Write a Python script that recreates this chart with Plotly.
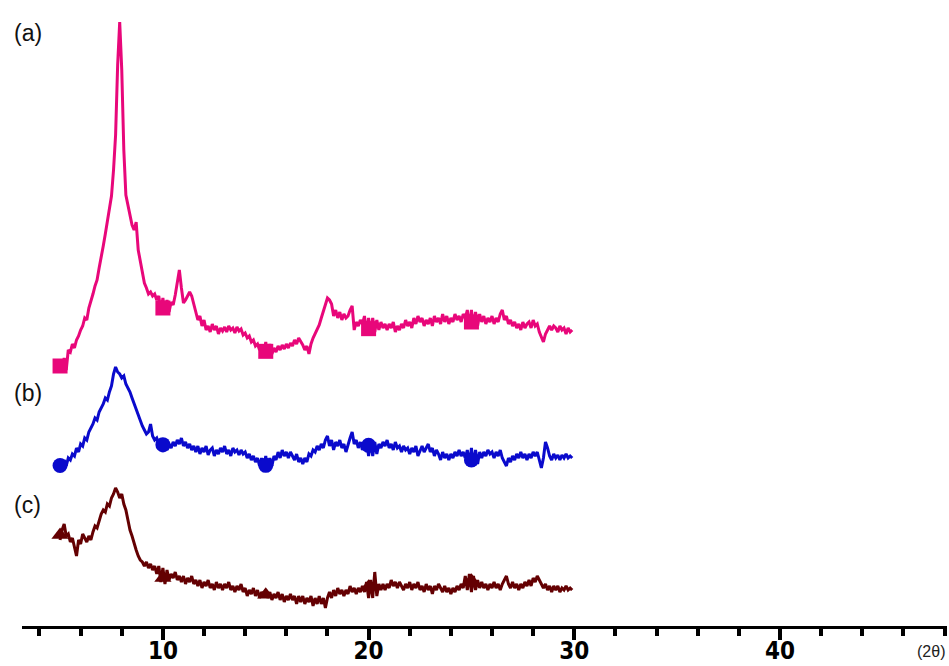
import numpy as np
import plotly.graph_objects as go

# 2-theta sampling grid (degrees)
two_theta = np.round(np.arange(5.0, 30.0, 0.1), 1)

# Intensities (a.u., stacked as displayed)
series_a = [
266,254,268,256,276,274,282,278,286,290,296,300,308,306,318,324,332,340,346,358,
368,380,392,404,416,430,456,491,561,604,556,476,431,421,414,401,396,404,376,364,
351,343,338,332,334,330,332,326,330,314,328,312,326,314,324,321,331,344,356,338,
323,326,330,334,330,322,314,306,310,300,306,296,300,294,302,296,300,292,298,295,
299,294,300,296,298,293,299,295,297,291,293,288,290,284,286,280,282,276,280,270,
284,270,282,272,278,274,280,276,281,277,282,278,283,280,286,282,288,285,281,276,
280,272,282,288,292,296,301,308,314,322,328,326,322,310,316,308,314,306,312,308,
310,316,320,296,304,300,306,302,310,292,308,292,308,294,306,296,304,298,302,296,
302,298,304,294,300,296,302,298,306,300,304,298,308,302,310,304,308,300,306,302,
308,300,310,304,308,302,312,304,310,302,308,304,312,306,310,304,312,308,316,298,
316,298,314,300,312,304,310,302,308,304,310,302,308,304,312,316,306,310,302,306,
300,304,298,302,296,304,298,302,304,298,306,300,302,294,288,284,292,296,300,296,
300,298,294,300,296,298,292,298,294,296]
series_b = [
163,158,166,160,168,166,172,170,178,174,182,180,188,186,194,198,202,208,206,214,
218,222,228,226,234,240,252,259,254,252,248,250,242,238,234,228,222,216,210,206,
200,196,192,194,202,190,186,188,182,186,174,184,176,182,178,184,180,186,182,188,
180,184,178,182,176,180,174,180,172,178,174,180,171,176,178,170,176,172,178,174,
180,172,176,170,178,174,176,171,176,172,174,168,172,166,170,164,168,160,168,156,
170,156,168,160,170,166,174,168,176,170,174,168,174,170,166,172,164,168,162,168,
164,172,170,176,174,180,176,182,178,186,190,180,186,176,184,180,186,178,182,174,
182,188,194,182,186,178,184,176,182,186,170,186,170,184,172,182,178,184,180,186,
178,182,176,184,178,180,174,180,176,178,172,178,174,180,170,176,180,174,178,182,
174,178,170,176,172,166,174,168,172,166,172,168,174,170,176,170,174,168,176,160,
178,160,176,162,174,168,174,170,176,172,174,168,174,170,176,168,164,160,168,164,
170,166,172,168,174,168,172,166,172,168,174,170,174,166,158,168,184,178,170,166,
172,168,171,166,171,168,172,168,170,168]
series_c = [
86,96,102,90,92,84,88,80,70,86,82,92,88,84,90,86,94,100,98,106,
112,116,114,122,120,128,132,138,134,128,132,122,116,106,96,90,82,76,70,66,
64,60,64,58,62,56,60,52,60,44,58,42,56,46,52,48,54,46,50,44,
50,42,48,44,50,42,46,40,46,38,44,40,46,38,42,36,44,38,42,36,
42,38,44,36,40,34,40,36,42,34,38,30,36,32,38,30,36,28,34,30,
36,28,34,26,32,28,34,26,32,24,30,26,32,26,30,22,30,24,30,22,
28,24,30,20,28,22,30,22,28,18,28,34,28,36,30,38,32,36,30,36,
32,40,34,38,32,38,34,40,34,44,28,46,28,54,30,42,36,42,36,42,
38,46,40,44,38,44,40,36,42,38,44,36,42,38,44,36,40,34,42,36,
40,32,40,36,42,38,34,40,34,38,32,38,34,40,36,42,38,50,36,52,
34,50,36,46,38,44,38,42,36,42,38,44,38,42,36,42,46,50,42,38,
44,38,42,36,42,38,44,40,46,40,48,44,50,46,42,38,42,36,40,34,
40,36,40,34,38,36,40,36,38,36]

labels = ["(a)", "(b)", "(c)"]
label_pos = [593, 233, 121]
colors = ["#E8077A", "#0A0ACC", "#640002"]
symbols = ["square", "circle", "triangle-up"]
marker_x = [5.0, 10.0, 15.0, 20.0, 25.0]

fig = go.Figure()
for ys, col, sym in zip([series_a, series_b, series_c], colors, symbols):
    ys = np.array(ys, dtype=float)
    fig.add_trace(go.Scatter(x=two_theta, y=ys, mode="lines",
                             line=dict(color=col, width=3), showlegend=False,
                             hoverinfo="skip"))
    idx = [int(np.argmin(np.abs(two_theta - m))) for m in marker_x]
    my = [ys[max(i - 1, 0):i + 2].mean() for i in idx]
    fig.add_trace(go.Scatter(x=[two_theta[i] for i in idx], y=my, mode="markers",
                             marker=dict(symbol=sym, size=15, color=col),
                             showlegend=False, hoverinfo="skip"))

for lab, ly in zip(labels, label_pos):
    fig.add_annotation(x=-0.011, xref="paper", xanchor="left",
                       y=ly, yref="y", yanchor="middle", text=lab, showarrow=False,
                       font=dict(family="Liberation Sans, Arial", size=23, color="#111"))

fig.add_annotation(x=1.0, xref="paper", xanchor="right", y=-0.04, yref="paper",
                   yanchor="middle", text="(2θ)", showarrow=False,
                   font=dict(family="Liberation Sans, Arial", size=16, color="#222"))

fig.update_layout(
    width=949, height=666,
    margin=dict(l=22, r=2, t=0, b=40, autoexpand=False),
    paper_bgcolor="white", plot_bgcolor="white",
    xaxis=dict(range=[3.15, 48.12], showgrid=False, zeroline=False, automargin=False,
               showline=True, linecolor="black", linewidth=3,
               ticks="outside", tickmode="linear", tick0=0, dtick=10,
               ticklen=11, tickwidth=4, tickcolor="black", ticklabelstandoff=-10,
               tickfont=dict(family="Liberation Sans Narrow, DejaVu Sans Condensed",
                             size=24, color="black", weight="bold"),
               minor=dict(ticks="outside", dtick=2, tick0=0, ticklen=7,
                          tickwidth=4, tickcolor="black", showgrid=False)),
    yaxis=dict(range=[0, 626], visible=False, showgrid=False, zeroline=False,
               automargin=False),
)

fig.write_html("out.html", config={"displayModeBar": False},
               post_script="document.body.style.margin='0';document.body.style.overflow='hidden';")
